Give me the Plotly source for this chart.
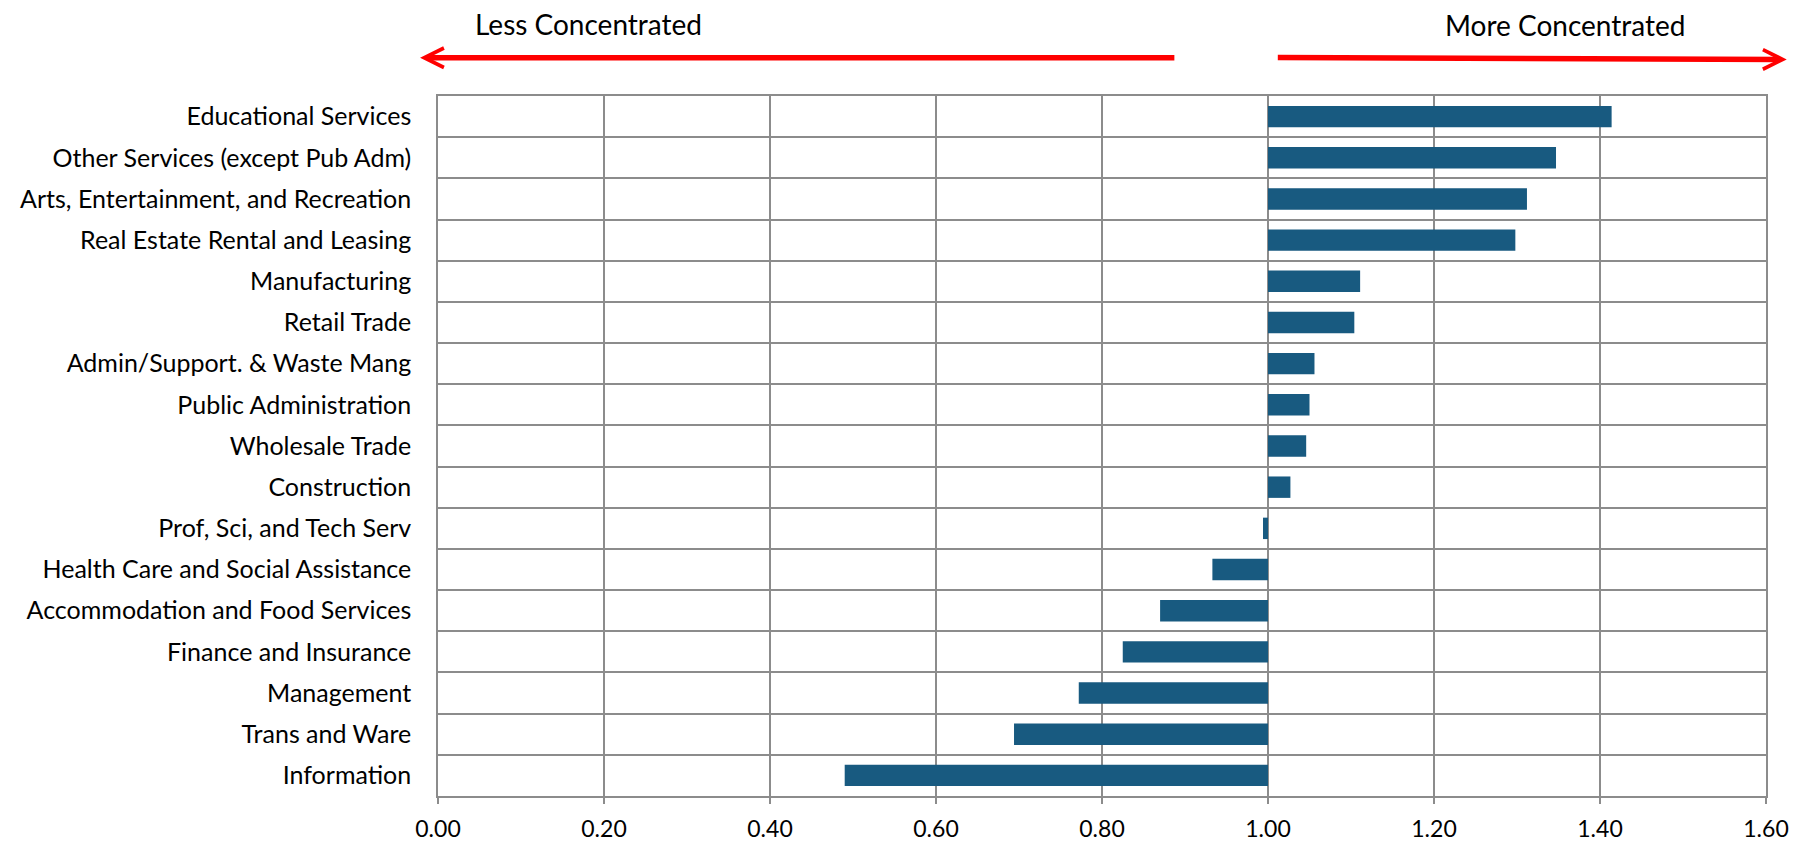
import plotly.graph_objects as go

categories = [
    "Educational Services",
    "Other Services (except Pub Adm)",
    "Arts, Entertainment, and Recreation",
    "Real Estate Rental and Leasing",
    "Manufacturing",
    "Retail Trade",
    "Admin/Support. & Waste Mang",
    "Public Administration",
    "Wholesale Trade",
    "Construction",
    "Prof, Sci, and Tech Serv",
    "Health Care and Social Assistance",
    "Accommodation and Food Services",
    "Finance and Insurance",
    "Management",
    "Trans and Ware",
    "Information",
]
values = [1.414, 1.347, 1.312, 1.298, 1.111, 1.104, 1.056, 1.050, 1.046, 1.027,
          0.994, 0.933, 0.870, 0.825, 0.772, 0.694, 0.490]
baseline = 1.0
x_ticks = [0.0, 0.2, 0.4, 0.6, 0.8, 1.0, 1.2, 1.4, 1.6]

FONT = "Lato"
BAR = "#185a80"
GRID = "#8c8c8c"

fig = go.Figure()
fig.add_trace(go.Bar(
    y=categories,
    x=[v - baseline for v in values],
    base=baseline,
    orientation="h",
    width=0.52,
    marker=dict(color=BAR, line=dict(width=0)),
    hovertemplate="%{y}: %{customdata:.2f}<extra></extra>",
    customdata=values,
))

fig.update_layout(
    width=1808, height=846,
    margin=dict(l=423, r=50, t=88, b=54),
    paper_bgcolor="white", plot_bgcolor="white",
    showlegend=False,
    font=dict(family=FONT, size=25, color="black"),
)
fig.update_xaxes(
    range=[0, 1.6], tickvals=x_ticks, tickformat=".2f",
    showgrid=True, gridcolor=GRID, gridwidth=1.5,
    showline=True, linecolor=GRID, linewidth=1.5, mirror=True,
    ticks="outside", ticklen=6, tickcolor=GRID, tickwidth=1.5,
    ticklabelstandoff=6,
    tickfont=dict(family=FONT, size=23, color="black"),
    zeroline=False, fixedrange=True,
)
fig.update_yaxes(
    type="category", categoryorder="array", categoryarray=categories,
    autorange="reversed", tickson="boundaries",
    showgrid=True, gridcolor=GRID, gridwidth=1.5,
    showline=True, linecolor=GRID, linewidth=1.5, mirror=True,
    ticks="", ticklabelstandoff=20,
    tickfont=dict(family=FONT, size=25, color="black"),
    fixedrange=True,
)

# direction arrows
fig.add_annotation(x=-0.0216, y=1.0547, xref="x", yref="paper",
                   ax=0.889, ay=0, axref="x", ayref="pixel",
                   showarrow=True, arrowhead=5, arrowsize=0.7, arrowwidth=5.5,
                   arrowcolor="#ff0000", text="")
fig.add_annotation(x=1.625, y=1.0521, xref="x", yref="paper",
                   ax=1.010, ay=-2, axref="x", ayref="pixel",
                   showarrow=True, arrowhead=5, arrowsize=0.7, arrowwidth=5.5,
                   arrowcolor="#ff0000", text="")
fig.add_annotation(x=0.181, y=1.103, xref="x", yref="paper", showarrow=False,
                   xanchor="center", yanchor="middle",
                   text="Less Concentrated", font=dict(family=FONT, size=28, color="black"))
fig.add_annotation(x=1.358, y=1.101, xref="x", yref="paper", showarrow=False,
                   xanchor="center", yanchor="middle",
                   text="More Concentrated", font=dict(family=FONT, size=28, color="black"))

fig.write_html("out.html")
